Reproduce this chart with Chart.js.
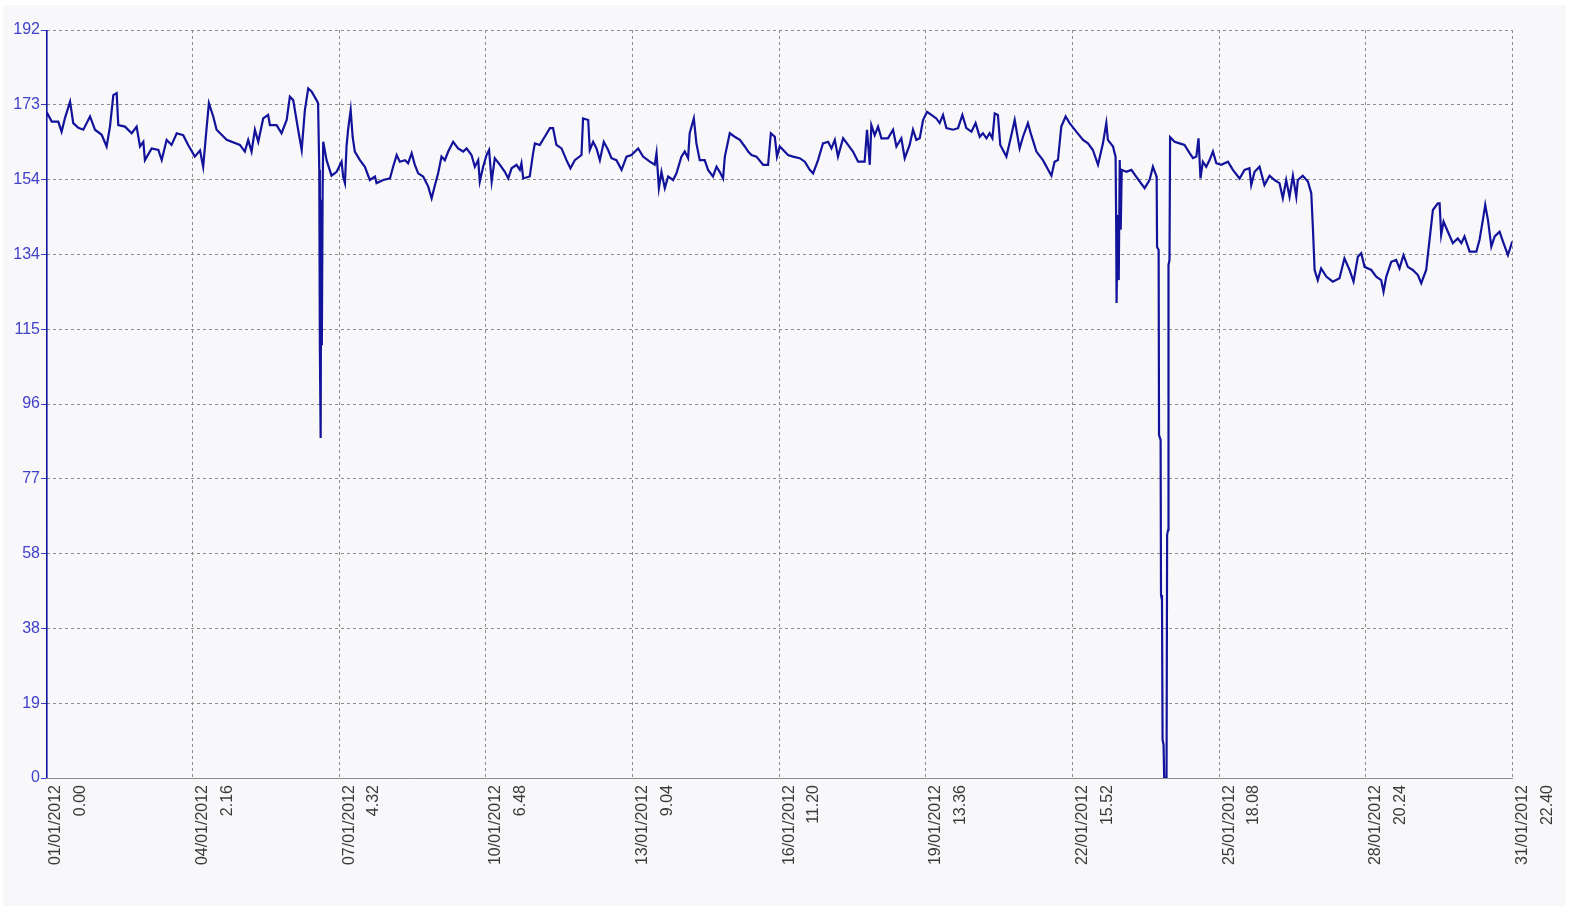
<!DOCTYPE html>
<html>
<head>
<meta charset="utf-8">
<script src="https://cdn.jsdelivr.net/npm/chart.js@4"></script>
<style>
  html, body { margin: 0; padding: 0; background: #ffffff; }
  #wrap { width: 1569px; height: 911px; position: relative; }
</style>
</head>
<body>
<div id="wrap"><canvas id="chart"></canvas></div>
<script>
// time in hours since 01/01/2012 0.00
var hours = [
  0, 0.15, 0.25, 0.35, 2.9, 6.2, 7.9, 9.6, 12.2, 13.8, 16.4, 18.9, 22.3, 24.8, 28.2, 30.7,
  32.4, 34.1, 35.8, 36.6, 40.0, 43.4, 45.9, 47.6, 49.3, 50.1, 53.5, 56.9, 58.6, 61.1, 63.6,
  66.2, 69.5, 72.0, 75.4, 78.0, 79.6, 81.4, 82.5, 84.7, 86.4, 91.5, 98.2, 100.7, 102.4, 104.1,
  105.8, 107.5, 110.0, 112.5, 113.4, 116.8, 119.3, 121.9, 123.5, 125.2, 127.7, 129.5, 131.1,
  132.8, 134.5, 137.0, 137.8, 138.4, 138.7, 139.1, 139.4, 139.7, 140.1, 140.4, 142.1, 144.6,
  147.2, 149.7, 150.5, 151.4, 152.2, 153.0, 154.3, 155.3, 156.4, 159.0, 161.5, 164.0, 166.6,
  167.4, 170.8, 174.2, 175.8, 177.6, 179.2, 181.8, 183.4, 185.2, 186.8, 188.5, 191.0, 193.6,
  195.3, 197.0, 198.6, 200.3, 202.0, 203.7, 206.2, 208.7, 211.3, 213.0, 215.5, 217.2, 218.9,
  219.7, 221.4, 223.1, 224.4, 225.7, 227.3, 229.9, 232.4, 234.1, 235.8, 238.3, 240.0, 240.8,
  241.7, 245.0, 246.7, 247.6, 250.1, 252.6, 255.2, 256.8, 258.5, 261.1, 263.6, 265.6, 267.8,
  271.2, 272.0, 274.6, 275.4, 277.1, 278.8, 280.5, 282.5, 284.7, 286.4, 288.9, 291.5, 294.0,
  296.5, 299.9, 302.4, 305.8, 308.3, 309.2, 310.4, 311.7, 313.4, 315.1, 317.6, 319.3, 321.8,
  323.5, 325.2, 326.0, 328.1, 329.4, 331.1, 333.6, 335.3, 337.8, 339.6, 341.2, 342.9, 343.8,
  346.3, 348.8, 351.4, 353.9, 355.6, 357.3, 359.8, 363.2, 365.7, 367.1, 369.1, 370.2, 371.6,
  374.1, 375.8, 378.3, 381.7, 384.3, 386.8, 388.5, 391.0, 393.5, 396.1, 397.8, 399.5, 401.1,
  403.7, 406.2, 408.7, 411.3, 414.6, 415.8, 417.2, 418.0, 419.7, 421.4, 423.1, 426.4, 429.0,
  430.7, 433.2, 434.9, 437.4, 439.1, 440.8, 442.5, 444.2, 446.2, 448.4, 450.9, 452.6, 454.3,
  456.0, 459.4, 461.9, 464.1, 466.1, 468.7, 470.8, 472.9, 474.5, 476.3, 477.9, 479.3, 480.5,
  482.1, 483.3, 486.4, 488.9, 490.6, 493.1, 494.8, 497.3, 499.0, 501.6, 504.9, 509.2, 510.8,
  512.5, 514.2, 516.4, 518.4, 521.8, 525.2, 527.7, 530.2, 532.8, 535.3, 537.0, 537.8, 540.4,
  541.7, 542.0, 542.2, 542.7, 543.3, 543.8, 544.3, 544.8, 547.1, 549.7, 552.2, 556.4, 558.9,
  560.6, 562.3, 562.5, 562.7, 563.5, 563.7, 564.5, 564.7, 565.2, 565.5, 566.0, 566.3, 567.5,
  567.8, 568.3, 568.5, 569.0, 569.3, 571.6, 574.1, 576.6, 579.2, 580.9, 582.6, 583.7, 584.7,
  585.9, 587.6, 589.3, 591.0, 592.7, 595.2, 598.6, 601.1, 604.5, 607.0, 609.5, 610.4, 612.1,
  614.6, 617.1, 619.7, 622.2, 624.7, 626.4, 628.1, 629.8, 631.5, 633.2, 634.0, 636.5, 639.1,
  640.8, 641.6, 642.5, 644.1, 645.8, 648.4, 651.7, 655.1, 657.6, 660.2, 662.2, 664.4, 666.1,
  667.8, 671.2, 673.7, 676.2, 677.4, 678.8, 681.3, 683.8, 685.5, 687.5, 689.7, 692.2, 694.8,
  696.5, 699.0, 700.7, 702.4, 704.9, 705.8, 706.6, 707.8, 710.0, 712.5, 715.0, 716.8, 718.4,
  721.0, 724.4, 726.0, 727.7, 728.9, 730.3, 732.0, 733.7, 736.2, 737.9, 740.4, 742.6
];
var values = [
  0, 192, 177.1, 171.0, 168.5, 168.5, 165.9, 169.4, 173.6, 168.1, 166.9, 166.4, 169.8, 166.4, 165.1, 162.1,
  167.2, 175.3, 175.8, 167.6, 167.2, 165.5, 167.2, 162.1, 163.3, 158.6, 161.6, 161.2, 158.6, 163.8, 162.5,
  165.5, 165.0, 162.5, 159.5, 161.1, 156.9, 167.2, 173.2, 169.8, 166.4, 163.8, 162.5, 160.8, 163.8, 160.8,
  166.4, 163.3, 169.3, 170.2, 167.6, 167.6, 165.5, 168.9, 174.9, 174.0, 166.4, 161.2, 171.4,
  177.0, 176.2, 174.0, 173.2, 156.1, 110.6, 87.3, 148.4, 111.1, 151.1, 163.3, 158.6, 154.6,
  155.6, 158.2, 154.3, 152.7, 162.1, 166.4, 171.5, 164.6, 160.8, 158.6, 156.9, 153.5, 154.4,
  152.7, 153.5, 153.9, 156.9, 159.9, 158.2, 158.6, 157.8, 160.4, 157.4, 155.2, 154.4, 151.8,
  148.8, 152.2, 155.2, 159.5, 158.6, 160.8, 163.3, 161.6, 160.8, 161.6, 159.9, 156.9, 158.6,
  153.1, 156.9, 159.9, 161.2, 153.1, 159.1, 157.4, 155.6, 153.9, 156.5, 157.4, 156.1, 157.8,
  153.9, 154.4, 160.4, 162.9, 162.5, 164.6, 166.8, 166.8, 162.5, 161.6, 158.6, 156.5, 158.6,
  159.9, 169.3, 168.9, 161.2, 163.3, 161.6, 158.6, 163.3, 161.2, 159.1, 158.6, 156.1, 159.5,
  159.9, 161.6, 159.5, 158.2, 157.4, 160.4, 151.4, 155.6, 151.4, 154.4, 153.5, 155.2, 159.5,
  160.8, 159.1, 165.5, 169.3, 162.9, 158.6, 158.6, 156.1, 154.4, 156.9, 155.6, 153.9, 159.5,
  165.5, 164.6, 163.8, 162.1, 160.8, 159.9, 159.5, 157.4, 157.4, 165.5, 164.6, 159.5, 162.1,
  160.8, 159.9, 159.5, 159.1, 158.2, 156.1, 155.2, 158.6, 162.9, 163.3, 161.6, 163.8, 159.5,
  164.2, 162.5, 160.8, 158.2, 158.2, 166.4, 157.4, 167.6, 165.0, 167.2, 164.2, 164.2, 166.4,
  162.1, 164.2, 159.1, 162.5, 166.4, 163.8, 164.2, 168.9, 171.0, 170.2, 169.3, 168.1, 170.2,
  166.8, 166.4, 166.8, 170.2, 166.8, 165.9, 168.1, 164.6, 165.5, 164.2, 165.5, 164.2, 170.6,
  170.2, 162.5, 159.5, 165.0, 168.9, 161.6, 164.6, 168.1, 165.0, 160.8, 158.6, 154.6, 158.2,
  158.6, 167.2, 169.8, 168.1, 165.9, 163.8, 162.9, 161.2, 157.4, 162.9, 168.1, 163.8, 162.1,
  159.4, 141.9, 121.9, 144.5, 127.8, 158.6, 140.7, 156.1, 155.6, 156.1, 154.3, 151.4, 153.5,
  156.9, 154.6, 154.0, 136.3, 135.5, 88.0, 86.8, 47.0, 45.7, 9.8, 8.5, 0, 0,
  62.4, 63.7, 131.7, 133.0, 164.5, 163.3, 162.9, 162.5, 160.4, 159.1, 159.5, 164.2, 153.9,
  158.2, 156.9, 158.6, 160.8, 157.8, 157.4, 158.2, 156.1, 153.9, 156.1, 156.5, 152.2, 155.6,
  156.9, 152.2, 154.6, 153.5, 152.7, 148.8, 153.5, 149.2, 154.6, 149.2, 153.5, 154.6, 153.1,
  150.1, 141.5, 130.4, 127.8, 130.8, 128.7, 127.4, 128.3, 133.4, 130.4, 127.4, 133.8, 134.7,
  131.2, 130.4, 128.7, 127.8, 124.8, 128.7, 132.5, 133.0, 130.8, 134.2, 131.2, 130.4, 129.1,
  127.0, 130.4, 138.1, 145.8, 147.5, 147.5, 139.4, 142.8, 140.2, 137.3, 138.5, 137.3, 139.0,
  135.1, 135.1, 138.1, 143.2, 147.1, 143.2, 136.4, 139.0, 140.2, 137.7, 134.2, 137.7
];

var xMax = 742 + 40 / 60;
var xTickDates = ['01/01/2012', '04/01/2012', '07/01/2012', '10/01/2012', '13/01/2012', '16/01/2012',
                  '19/01/2012', '22/01/2012', '25/01/2012', '28/01/2012', '31/01/2012'];
var xTickTimes = ['0.00', '2.16', '4.32', '6.48', '9.04', '11.20', '13.36', '15.52', '18.08', '20.24', '22.40'];
var yMax = 192;
var yTickLabels = ['0', '19', '38', '58', '77', '96', '115', '134', '154', '173', '192'];

var points = hours.map(function (h, i) { return { x: h, y: values[i] }; });

var bgPlugin = {
  id: 'bg',
  beforeDraw: function (chart) {
    var c = chart.ctx;
    c.save();
    c.fillStyle = '#f8f8fb';
    c.fillRect(3, 5, chart.width - 6, chart.height - 10);
    c.restore();
  }
};

var gridColor = '#8c8c8c';
var ctx = document.getElementById('chart').getContext('2d');
var chart = new Chart(ctx, {
  type: 'line',
  data: {
    datasets: [{
      data: points,
      borderColor: '#12129a',
      borderWidth: 2.2,
      pointRadius: 0,
      tension: 0,
      fill: false
    }]
  },
  options: {
    responsive: true,
    maintainAspectRatio: false,
    animation: false,
    layout: { padding: { top: 30, right: 56, bottom: 0, left: 0 } },
    plugins: { legend: { display: false }, tooltip: { enabled: false } },
    scales: {
      x: {
        type: 'linear',
        min: 0,
        max: xMax,
        afterBuildTicks: function (scale) {
          scale.ticks = xTickDates.map(function (d, i) { return { value: i * xMax / 10 }; });
        },
        afterFit: function (scale) { scale.height = 133; },
        grid: { color: gridColor, drawTicks: false, lineWidth: 1 },
        border: { display: true, color: gridColor, dash: [3, 3] },
        ticks: {
          autoSkip: false,
          minRotation: 90,
          maxRotation: 90,
          padding: 7,
          labelOffset: 10,
          color: '#3a3a3a',
          font: { family: 'Liberation Sans', size: 16, lineHeight: 1.55 },
          callback: function (v, i) { return [xTickDates[i], xTickTimes[i]]; }
        }
      },
      y: {
        min: 0,
        max: yMax,
        afterBuildTicks: function (scale) {
          scale.ticks = yTickLabels.map(function (t, i) { return { value: i * yMax / 10 }; });
        },
        afterFit: function (scale) { scale.width = 46; },
        grid: { color: gridColor, lineWidth: 1, tickLength: 5, tickColor: '#3c3cc8', tickBorderDash: [] },
        border: { display: true, color: gridColor, dash: [3, 3] },
        ticks: {
          padding: 1,
          color: '#4040c8',
          font: { family: 'Liberation Sans', size: 16 },
          callback: function (v, i) { return yTickLabels[i]; }
        }
      }
    }
  },
  plugins: [bgPlugin]
});
</script>
</body>
</html>
